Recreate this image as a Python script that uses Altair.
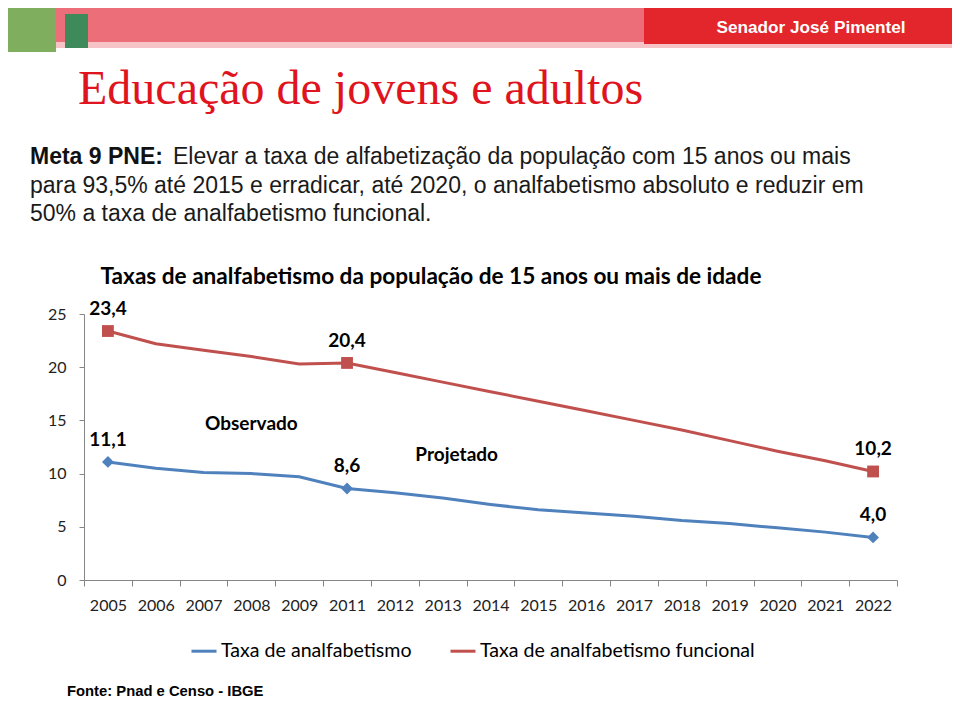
import altair as alt
import pandas as pd

# ---------------- data ----------------
years = ["2005", "2006", "2007", "2008", "2009", "2011", "2012", "2013", "2014",
         "2015", "2016", "2017", "2018", "2019", "2020", "2021", "2022"]
taxa = [11.1, 10.5, 10.1, 10.0, 9.7, 8.6, 8.2, 7.7, 7.1, 6.6, 6.3, 6.0, 5.6, 5.3, 4.9, 4.5, 4.0]
funcional = [23.4, 22.2, 21.6, 21.0, 20.3, 20.4, 19.5, 18.6, 17.7, 16.8, 15.9, 15.0, 14.1,
             13.1, 12.1, 11.2, 10.2]
series_names = ["Taxa de analfabetismo", "Taxa de analfabetismo funcional"]
series_colors = ["#4F81BD", "#C0504D"]
series_shapes = ["diamond", "square"]
marker_years = ["2005", "2011", "2022"]
y_ticks = [0, 5, 10, 15, 20, 25]
annotation_texts = ["Observado", "Projetado"]
annotation_years = ["2008", "2013"]
annotation_values = [14.7, 11.75]

slide_title = "Educação de jovens e adultos"
para_bold = "Meta 9 PNE:"
para_lines = [
    "Elevar a taxa de alfabetização da população com 15 anos ou mais",
    "para 93,5% até 2015 e erradicar, até 2020, o analfabetismo absoluto e reduzir em",
    "50% a taxa de analfabetismo funcional.",
]
chart_title = "Taxas de analfabetismo da população de 15 anos ou mais de idade"
header_text = "Senador José Pimentel"
source_text = "Fonte: Pnad e Censo - IBGE"

# ---------------- tables ----------------
rows = []
for name, vals in zip(series_names, [taxa, funcional]):
    for y, v in zip(years, vals):
        rows.append({"ano": y, "valor": v, "serie": name})
df = pd.DataFrame(rows)
df_mark = df[df["ano"].isin(marker_years)]
df_ann = pd.DataFrame({"texto": annotation_texts, "ano": annotation_years, "valor": annotation_values})
one = pd.DataFrame({"k": [0]})

W, H = 813, 266
AX = "#868686"

xenc = alt.X("ano:O", sort=years, bandPosition=0.5,
             scale=alt.Scale(type="band", domain=years, paddingInner=0, paddingOuter=0),
             axis=alt.Axis(title=None, labelAngle=0, tickBand="extent", tickSize=6,
                           labelPadding=11, labelFont="Lato", labelFontSize=16,
                           labelColor="#222222", domainColor=AX, tickColor=AX, grid=False))
yenc = alt.Y("valor:Q", scale=alt.Scale(domain=[0, 25], nice=False, zero=True),
             axis=alt.Axis(title=None, values=y_ticks, tickSize=5, labelPadding=13,
                           labelFont="Lato", labelFontSize=16, labelColor="#222222",
                           domainColor=AX, tickColor=AX, grid=False))
color = alt.Color("serie:N", scale=alt.Scale(domain=series_names, range=series_colors),
                  legend=alt.Legend(orient="none", legendX=106, legendY=323, direction="horizontal",
                                    title=None, symbolType="stroke", symbolSize=625,
                                    symbolStrokeWidth=3, labelFont="Lato", labelFontSize=19.6,
                                    labelColor="#000000", columnPadding=32, padding=0,
                                    labelOffset=3, labelLimit=0))

lines = alt.Chart(df).mark_line(strokeWidth=3).encode(x=xenc, y=yenc, color=color)

markers = alt.Chart(df_mark).mark_point(filled=True, opacity=1, size=140).encode(
    x=xenc, y=yenc,
    color=alt.Color("serie:N", scale=alt.Scale(domain=series_names, range=series_colors), legend=None),
    shape=alt.Shape("serie:N", scale=alt.Scale(domain=series_names, range=series_shapes), legend=None),
)

labels = alt.Chart(df_mark).transform_calculate(
    lab="replace(format(datum.valor, '.1f'), '.', ',')"
).mark_text(font="Lato", fontWeight="bold", fontSize=19, dy=-22, color="#000000").encode(
    x=xenc, y=yenc, text="lab:N")

ann_obs = alt.Chart(df_ann).transform_filter(alt.datum.texto == annotation_texts[0]).mark_text(
    font="Lato", fontWeight="bold", fontSize=19, color="#000000").encode(x=xenc, y=yenc, text="texto:N")
ann_proj = alt.Chart(df_ann).transform_filter(alt.datum.texto == annotation_texts[1]).mark_text(
    font="Lato", fontWeight="bold", fontSize=19, color="#000000", dx=14).encode(x=xenc, y=yenc, text="texto:N")

# ---------------- slide decorations (pixel positions relative to plot origin) ----------------
def rect(x1, x2, y1, y2, fill):
    return alt.Chart(one).mark_rect(color=fill).encode(
        x=alt.value(x1), x2=alt.value(x2), y=alt.value(y1), y2=alt.value(y2))

def txt(s, x, y, size, font="Liberation Sans", weight="normal", col="#1a1a1a", align="left"):
    return alt.Chart(one).mark_text(text=s, font=font, fontSize=size, fontWeight=weight,
                                    color=col, align=align, baseline="middle").encode(
        x=alt.value(x), y=alt.value(y))

deco = [
    rect(-76, 868, -306, -272, "#EC6E78"),
    rect(-76, 868, -272, -266, "#F6C3C7"),
    rect(560, 868, -306, -270, "#E2262B"),
    rect(-76, -28, -306, -262, "#7FAF5E"),
    rect(-19, 4, -300, -266, "#3F8A5A"),
    txt(header_text, 727, -286, 17.2, weight="bold", col="#FFFFFF", align="center"),
    txt(slide_title, -6, -224, 48, font="Liberation Serif", col="#E0141E"),
    txt(para_bold, -54, -157, 23, weight="bold", col="#111111"),
    txt(para_lines[0], 89, -157, 23, col="#1a1a1a"),
    txt(para_lines[1], -54, -128, 23, col="#1a1a1a"),
    txt(para_lines[2], -54, -100, 23, col="#1a1a1a"),
    txt(chart_title, 347, -37, 22.6, font="Lato", weight="bold", col="#000000", align="center"),
    txt(source_text, -17, 378, 14.8, weight="bold", col="#000000"),
]

chart = alt.layer(*deco, lines, markers, labels, ann_obs, ann_proj).properties(
    width=W, height=H,
    autosize=alt.AutoSizeParams(type="none"),
    padding={"left": 76, "top": 306, "right": 55, "bottom": 121},
).configure_view(stroke=None).resolve_scale(color="independent", shape="independent")

chart.save("out.html", embed_options={"renderer": "svg", "actions": False})
